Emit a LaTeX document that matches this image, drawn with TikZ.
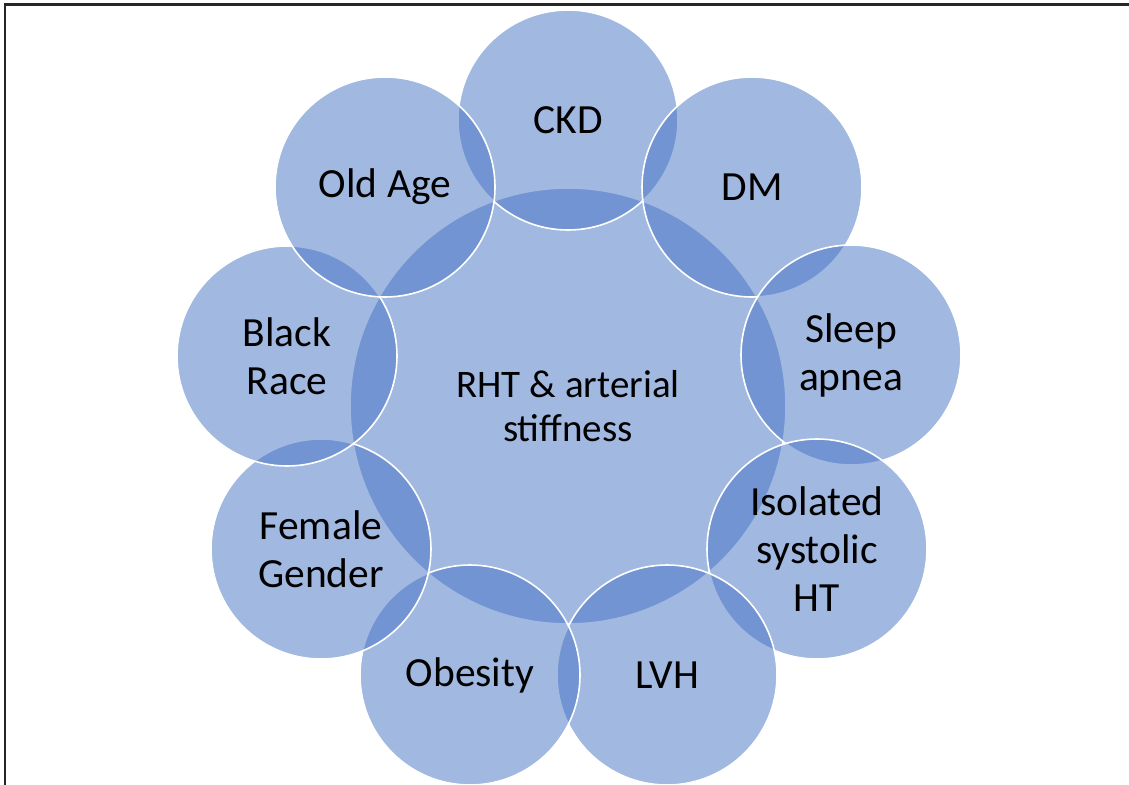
\documentclass[tikz,border=0pt]{standalone}
\usepackage{fontspec}
\setmainfont{Carlito}
\definecolor{accent}{HTML}{4472C4}
\begin{document}
\begin{tikzpicture}[x=1pt,y=-1pt,
  bubble/.style={circle, fill=accent, fill opacity=0.5, text opacity=1, draw=white, draw opacity=1,
    line width=1.6pt, minimum size=220pt, inner sep=0pt, text=black, align=center,
    font=\fontsize{41.5}{48}\selectfont},
  hub/.style={bubble, minimum size=436pt, font=\fontsize{39}{43.5}\selectfont},
  frameline/.style={line width=2.2pt, draw=black!85}]
\useasboundingbox (0,0) rectangle (1129,784);
\fill[white] (0,0) rectangle (1129,784);
\coordinate (fbl) at (5,800);
\coordinate (ftl) at (5,4.5);
\coordinate (ftr) at (1140,4.5);
\draw[frameline] (fbl) -- (ftl) -- (ftr);
\node[hub] (hub) at (568,406) {RHT \& arterial\\stiffness};
\node[bubble] (ckd) at (568,120) {CKD};
\node[bubble] (dm) at (752,187) {DM};
\node[bubble] (sleep) at (851,355) {Sleep\\apnea};
\node[bubble] (ish) at (817,549) {Isolated\\systolic\\HT};
\node[bubble] (lvh) at (667,675) {LVH};
\node[bubble] (obes) at (470,675) {Obesity};
\node[bubble] (fem) at (321,549) {Female\\Gender};
\node[bubble] (black) at (287,356) {Black\\Race};
\node[bubble] (old) at (385,187) {Old Age};
\end{tikzpicture}
\end{document}
